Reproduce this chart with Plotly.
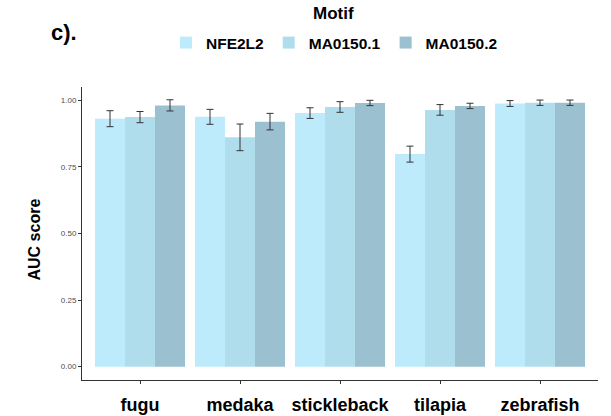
import plotly.graph_objects as go

species = ["fugu", "medaka", "stickleback", "tilapia", "zebrafish"]
motifs = ["NFE2L2", "MA0150.1", "MA0150.2"]
colors = ["#BEEBFB", "#B0DDEC", "#9BC0CF"]

auc_nfe2l2 = [0.931, 0.938, 0.952, 0.798, 0.988]
auc_ma0150_1 = [0.937, 0.861, 0.975, 0.964, 0.991]
auc_ma0150_2 = [0.981, 0.920, 0.990, 0.979, 0.991]

err_nfe2l2 = [0.030, 0.028, 0.020, 0.030, 0.011]
err_ma0150_1 = [0.021, 0.050, 0.020, 0.020, 0.010]
err_ma0150_2 = [0.021, 0.031, 0.010, 0.010, 0.010]

values = [auc_nfe2l2, auc_ma0150_1, auc_ma0150_2]
errors = [err_nfe2l2, err_ma0150_1, err_ma0150_2]

FONT = "Liberation Sans, Arial, sans-serif"
W, H = 611, 416
ML, MR, MT, MB = 82, 13, 87, 36
PW, PH = W - ML - MR, H - MT - MB


def px_to_paper(xp, yp):
    return (xp - ML) / PW, (H - MB - yp) / PH


fig = go.Figure()
for name, vals, errs, col in zip(motifs, values, errors, colors):
    fig.add_trace(go.Bar(
        x=species, y=vals, name=f"<b>{name}</b>",
        marker=dict(color=col, line=dict(width=0)),
        error_y=dict(type="data", array=errs, visible=True,
                     color="#333333", thickness=1, width=3.5),
    ))

leg_x, leg_y = px_to_paper(166, 43)
motif_x, motif_y = px_to_paper(333, 13)
ytit_x, ytit_y = px_to_paper(33.5, 240)
tag_x, tag_y = px_to_paper(49, 33)

fig.update_layout(
    width=W, height=H,
    margin=dict(l=ML, r=MR, t=MT, b=MB, autoexpand=False),
    paper_bgcolor="white", plot_bgcolor="white",
    barmode="group", bargap=0.1, bargroupgap=0,
    font=dict(family=FONT, color="black"),
    legend=dict(
        orientation="h", x=leg_x, xanchor="left", y=leg_y, yanchor="middle",
        font=dict(size=15.5, color="black"),
        itemwidth=30, tracegroupgap=0,
    ),
    xaxis=dict(
        range=[-0.58, 4.58], showline=True, linecolor="#333333", linewidth=1,
        ticks="outside", ticklen=3, tickcolor="#333333",
        tickfont=dict(size=18, color="black", family=FONT),
        showgrid=False, zeroline=False, ticklabelstandoff=5,
    ),
    yaxis=dict(
        range=[-0.05, 1.05], showline=True, linecolor="#333333", linewidth=1,
        ticks="outside", ticklen=3, tickcolor="#333333",
        tickvals=[0, 0.25, 0.5, 0.75, 1.0],
        ticktext=["0.00", "0.25", "0.50", "0.75", "1.00"],
        tickfont=dict(size=8, color="#4D4D4D"),
        showgrid=False, zeroline=False,
    ),
    annotations=[
        dict(text="<b>c).</b>", xref="paper", yref="paper",
             x=tag_x, y=tag_y, xanchor="left", yanchor="middle",
             showarrow=False, font=dict(size=22, color="black")),
        dict(text="<b>Motif</b>", xref="paper", yref="paper",
             x=motif_x, y=motif_y, xanchor="center", yanchor="middle",
             showarrow=False, font=dict(size=17, color="black")),
        dict(text="<b>AUC score</b>", xref="paper", yref="paper",
             x=ytit_x, y=ytit_y, xanchor="center", yanchor="middle",
             textangle=-90, showarrow=False, font=dict(size=16, color="black")),
    ],
)

# bold category labels
fig.update_xaxes(tickvals=species, ticktext=[f"<b>{s}</b>" for s in species])

fig.write_html("out.html")
